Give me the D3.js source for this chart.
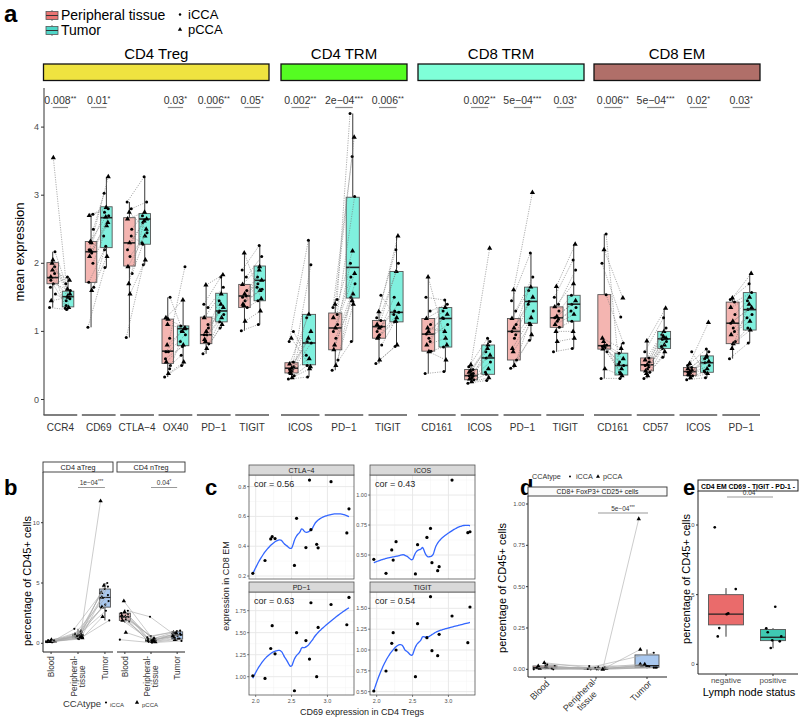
<!DOCTYPE html>
<html><head><meta charset="utf-8">
<script src="https://cdn.jsdelivr.net/npm/d3@7"></script>
<style>body{margin:0;background:#fff} svg{font-family:"Liberation Sans",Arial,sans-serif}</style>
</head><body><svg id="fig" width="800" height="718"></svg>
<script>
// ---------------- DATA ----------------
// panel a
const A_FACETS = ['CD4 Treg','CD4 TRM','CD8 TRM','CD8 EM'];
const A_MARKERS = [['CCR4','CD69','CTLA−4','OX40','PD−1','TIGIT'],['ICOS','PD−1','TIGIT'],['CD161','ICOS','PD−1','TIGIT'],['CD161','CD57','ICOS','PD−1']];
const A_PVALS = [['0.008**','0.01*','','0.03*','0.006**','0.05*'],['0.002**','2e−04***','0.006**'],['','0.002**','5e−04***','0.03*'],['0.006**','5e−04***','0.02*','0.03*']];
const A_TICKS = [0,1,2,3,4];
const PATIENT_TYPE = ['i','p','i','p','i','i','p','i','p','i','i','p','i','p'];
// box stats [lower whisker, q1, median, q3, upper whisker] – Peripheral tissue / Tumor
const A_BOX_P = [[1.35,1.70,1.79,2.01,2.17],[1.06,1.72,2.17,2.32,2.73],[0.91,1.96,2.30,2.67,2.90],[0.33,0.53,0.71,1.18,1.50],[0.67,0.82,0.95,1.21,1.68],[1.01,1.35,1.52,1.69,2.15],
 [0.30,0.39,0.46,0.54,0.56],[0.43,0.73,1.05,1.27,1.47],[0.53,0.90,1.07,1.16,1.29],
 [0.38,0.71,0.96,1.19,1.80],[0.24,0.29,0.35,0.44,0.51],[0.46,0.58,1.00,1.19,1.61],[0.70,1.06,1.20,1.36,1.66],
 [0.31,0.74,0.79,1.54,2.43],[0.31,0.42,0.51,0.61,0.86],[0.29,0.35,0.41,0.47,0.53],[0.60,0.82,1.12,1.43,1.49]];
const A_BOX_T = [[1.31,1.36,1.51,1.59,1.80],[1.94,2.23,2.67,2.83,3.27],[1.98,2.28,2.65,2.73,3.27],[0.50,0.79,1.04,1.08,1.46],[1.05,1.14,1.30,1.56,1.83],[1.10,1.45,1.75,1.96,2.26],
 [0.33,0.51,0.83,1.25,2.34],[0.85,1.49,1.94,2.97,4.20],[0.80,1.14,1.28,1.88,2.40],
 [0.41,0.77,1.19,1.35,1.46],[0.28,0.37,0.61,0.80,0.90],[0.87,1.12,1.44,1.65,2.15],[0.75,1.15,1.40,1.53,2.28],
 [0.31,0.36,0.50,0.68,0.83],[0.62,0.75,0.89,1.00,1.34],[0.32,0.40,0.54,0.64,0.74],[0.83,1.02,1.32,1.57,1.85]];
// per-patient values (paired)
const A_PTS_P = [
 [1.35,3.55,1.55,1.45,1.70,1.75,2.05,2.17,1.80,1.95,1.65,1.90,1.85,2.00],
 [1.06,1.60,1.65,2.10,2.15,2.20,2.30,2.50,2.70,2.72,1.72,2.18,2.00,2.32],
 [0.91,1.55,1.85,1.95,2.10,2.20,2.30,2.50,2.65,2.80,2.90,2.75,2.40,1.70],
 [0.33,0.38,0.50,0.55,0.70,0.70,1.18,1.50,1.20,0.90,0.60,1.10,0.45,0.80],
 [0.67,0.75,0.82,0.88,0.95,0.95,1.00,1.05,1.20,1.35,1.40,1.68,1.10,0.85],
 [1.01,1.15,1.35,1.40,1.45,1.50,1.55,1.60,1.69,1.80,1.90,2.15,1.52,1.38],
 [0.30,0.32,0.35,0.40,0.42,0.44,0.46,0.48,0.52,0.55,0.85,0.90,1.00,0.38],
 [0.43,0.50,0.58,0.73,0.90,1.00,1.05,1.10,1.20,1.25,1.35,1.40,1.47,0.80],
 [0.53,0.58,0.80,0.90,0.95,1.00,1.05,1.07,1.10,1.16,1.20,1.29,1.53,0.92],
 [0.38,0.70,0.71,0.80,0.90,0.96,1.00,1.10,1.19,1.30,1.50,1.80,0.85,1.05],
 [0.24,0.26,0.29,0.30,0.32,0.35,0.36,0.38,0.40,0.44,0.48,0.51,0.34,0.42],
 [0.46,0.50,0.58,0.75,0.90,1.00,1.05,1.10,1.19,1.30,1.45,1.61,0.95,0.70],
 [0.70,0.85,1.06,1.10,1.15,1.20,1.22,1.30,1.36,1.40,1.50,1.66,1.18,1.00],
 [0.31,0.45,0.70,0.74,0.76,0.78,0.79,0.80,0.90,1.54,2.00,2.20,2.43,0.85],
 [0.31,0.35,0.40,0.42,0.45,0.50,0.51,0.55,0.58,0.61,0.70,0.86,0.48,0.38],
 [0.29,0.32,0.35,0.37,0.39,0.40,0.41,0.43,0.45,0.47,0.50,0.53,0.70,0.36],
 [0.60,0.82,0.85,0.95,1.05,1.12,1.15,1.25,1.35,1.43,1.47,1.49,1.00,0.75]];
const A_PTS_T = [
 [1.32,1.35,1.45,1.50,1.60,1.38,1.55,1.70,1.52,1.48,1.80,1.75,1.34,1.62],
 [1.94,2.10,2.20,2.55,2.70,2.75,3.27,3.03,2.82,2.80,2.25,2.60,2.40,2.68],
 [1.98,2.05,2.28,2.40,2.45,2.60,2.65,2.70,2.75,2.90,3.27,2.50,2.30,2.62],
 [0.50,0.55,0.65,0.80,0.95,1.00,1.05,1.08,1.46,1.95,0.78,1.04,0.85,1.00],
 [1.05,1.10,1.14,1.20,1.25,1.30,1.35,1.45,1.55,1.65,1.80,1.83,1.28,1.40],
 [1.10,1.30,1.45,1.60,1.62,1.70,1.75,1.80,1.95,2.10,2.26,1.48,1.65,1.90],
 [0.33,0.45,0.50,0.60,0.83,0.85,1.00,1.20,1.25,1.98,2.34,0.48,0.65,0.90],
 [0.85,1.40,1.50,1.55,1.70,1.80,1.85,2.00,2.18,2.98,3.57,3.85,4.20,1.45],
 [0.78,0.80,1.14,1.20,1.28,1.30,1.40,1.50,1.88,2.00,2.20,2.40,1.25,1.15],
 [0.41,0.58,0.77,0.90,1.10,1.19,1.25,1.30,1.35,1.40,1.46,0.80,1.20,1.00],
 [0.28,0.32,0.37,0.45,0.55,0.61,0.65,0.70,0.80,0.85,0.90,2.22,0.40,0.75],
 [0.87,0.95,1.12,1.20,1.30,1.44,1.50,1.60,1.65,1.80,2.15,3.04,1.40,1.10],
 [0.75,0.90,1.15,1.25,1.35,1.40,1.45,1.53,1.70,1.90,2.05,2.28,1.30,1.00],
 [0.31,0.35,0.40,0.45,0.50,0.55,0.60,0.68,0.75,0.83,1.21,1.49,0.52,0.38],
 [0.62,0.70,0.75,0.80,0.85,0.88,0.90,0.95,1.00,1.05,1.20,1.34,0.78,0.92],
 [0.32,0.38,0.40,0.45,0.50,0.54,0.56,0.60,0.64,0.70,0.74,1.13,0.42,0.62],
 [0.83,1.02,1.05,1.15,1.25,1.32,1.35,1.45,1.50,1.57,1.70,1.85,1.20,1.40]];

// panel b
const B_FACETS = ['CD4 aTreg','CD4 nTreg'];
const B_CATS = ['Blood','Peripheral-\ntissue','Tumor'];
const B_TICKS = [0,5,10];
const B_PVALS = ['1e−04***','0.04*'];
const B_BOX = [
 [[0.05,0.10,0.15,0.22,0.30],[0.30,0.45,0.60,0.75,1.20],[1.90,3.00,3.80,4.50,5.00]],
 [[1.70,1.90,2.20,2.50,2.80],[0.05,0.15,0.25,0.38,0.60],[0.20,0.35,0.70,0.95,1.10]]];
const B_PTS = [
 [[0.10,0.15,0.20,0.12,0.08,0.25,0.30,0.18,0.14,0.22,0.10,0.16,0.20,0.12],
  [0.35,0.45,0.50,0.60,0.65,0.70,0.55,0.80,1.00,1.20,0.40,0.75,0.60,0.50],
  [1.90,2.20,2.70,3.00,3.20,3.50,3.80,4.00,4.20,4.50,4.70,4.80,5.00,11.8]],
 [[0.30,0.90,1.80,1.90,2.00,2.10,2.20,2.20,2.30,2.40,2.50,2.60,2.70,3.50],
  [0.05,0.10,0.12,0.15,0.20,0.25,0.30,0.35,0.40,0.50,0.60,0.20,2.20,0.30],
  [0.20,0.30,0.40,0.50,0.60,0.70,0.75,0.80,0.90,1.00,1.05,0.85,0.40,0.60]]];

// panel c
const C_FACETS = ['CTLA−4','ICOS','PD−1','TIGIT'];
const C_COR = ['cor = 0.56','cor = 0.43','cor = 0.63','cor = 0.54'];
const C_X = [1.96,2.13,2.21,2.23,2.27,2.54,2.57,2.70,2.75,2.77,2.85,2.87,3.05,3.27,3.30];
const C_Y = [
 [0.218,0.304,0.449,0.464,0.451,0.271,0.587,0.391,0.844,0.511,0.413,0.389,0.833,0.489,0.651],
 [0.464,0.347,0.542,0.458,0.611,0.342,0.586,0.647,0.722,0.436,0.369,0.403,1.125,0.686,0.694],
 [1.01,0.98,1.32,1.58,1.26,0.84,1.50,1.41,1.20,1.84,1.00,1.56,1.82,1.59,1.90],
 [0.508,0.748,1.08,1.208,1.00,0.68,1.316,1.148,1.64,0.992,0.932,1.188,1.408,1.088,1.516]];
const C_XTICKS = [2.0,2.5,3.0];
const C_YTICKS = [[0.2,0.4,0.6,0.8],[0.5,0.75,1.0],[1.0,1.25,1.5,1.75],[0.5,0.75,1.0,1.25,1.5]];
const C_YDOM = [[0.18,0.878],[0.30,1.167],[0.792,1.962],[0.46,1.696]];

// panel d
const D_CATS = ['Blood','Peripheral-\ntissue','Tumor'];
const D_TICKS = [0,0.25,0.5,0.75,1.0];
const D_BOX = [[0,0.005,0.01,0.02,0.035],[0,0.0,0.003,0.008,0.015],[0.005,0.012,0.022,0.087,0.12]];
const D_PTS = [
 [0.0,0.01,0.02,0.005,0.03,0.01,0.015,0.0,0.02,0.005,0.01,0.04],
 [0.0,0.005,0.0,0.01,0.02,0.0,0.005,0.01,0.0,0.002,0.008,0.0],
 [0.01,0.02,0.015,0.03,0.02,0.01,0.12,0.10,0.91,0.02,0.01,0.03]];
const D_TYPE = ['i','p','i','p','i','i','p','i','p','i','i','p'];

// panel e
const E_CATS = ['negative','positive'];
const E_TICKS = [0,5,10];
const E_BOX = [[1.98,2.83,3.6,5.0,5.47],[1.15,1.70,1.94,2.50,2.60]];
const E_PTS = [[9.83,5.4,3.65,3.6,2.6,2.0],[4.13,2.3,2.58,2.0,1.65,1.72,1.17]];

// ---------------- HELPERS ----------------
const svg = d3.select('#fig');
function txt(g,x,y,s,o={}){const t=g.append('text').attr('x',x).attr('y',y).text(s).attr('font-size',o.size||10).attr('fill',o.fill||'#000').attr('text-anchor',o.anchor||'start');if(o.weight)t.attr('font-weight',o.weight);if(o.rot!=null)t.attr('transform',`rotate(${o.rot},${x},${y})`);return t;}
function boxplot(g,cx,w,s,y,fill,stroke,medW){
 g.append('line').attr('x1',cx).attr('x2',cx).attr('y1',y(s[0])).attr('y2',y(s[1])).attr('stroke','#222').attr('stroke-width',0.9);
 g.append('line').attr('x1',cx).attr('x2',cx).attr('y1',y(s[3])).attr('y2',y(s[4])).attr('stroke','#222').attr('stroke-width',0.9);
 g.append('rect').attr('x',cx-w/2).attr('width',w).attr('y',y(s[3])).attr('height',Math.max(0.5,y(s[1])-y(s[3]))).attr('fill',fill).attr('stroke',stroke).attr('stroke-width',0.9);
 g.append('line').attr('x1',cx-w/2).attr('x2',cx+w/2).attr('y1',y(s[2])).attr('y2',y(s[2])).attr('stroke','#222').attr('stroke-width',medW||1.5);
}
function pt(g,x,y,type,sz){
 if(type==='p') g.append('path').attr('d',d3.symbol(d3.symbolTriangle,sz*3.2)()).attr('transform',`translate(${x},${y})`).attr('fill','#000');
 else g.append('circle').attr('cx',x).attr('cy',y).attr('r',sz/2.4).attr('fill','#000');
}
const jit = (i,a)=>(((i*7)%5)-2)/2*a + (((i*3)%4)-1.5)/6*a;
function pval(g,x,y,s,size){
 const m=s.match(/^([^*]*)(\**)$/);
 const t=g.append('text').attr('x',x).attr('y',y).attr('text-anchor','middle').attr('font-size',size).attr('fill','#333');
 t.append('tspan').text(m[1]);
 if(m[2]) t.append('tspan').text(m[2]).attr('font-size',size*0.7).attr('dy',-size*0.3);
}
function multiLabel(g,x,y,label,rot,size){
 const lines=label.split('\n');
 const gg=g.append('g').attr('transform',`translate(${x},${y}) rotate(${rot})`);
 const ts=lines.map((l,i)=>gg.append('text').text(l).attr('font-size',size).attr('fill','#333').attr('text-anchor','middle').attr('y',(i-(lines.length-1)/2)*size*1.05+size*0.35));
 const W=d3.max(ts,t=>t.node().getComputedTextLength());
 ts.forEach(t=>t.attr('x',-W/2));
}
function loess(xs,ys,grid,span){
 const n=xs.length,q=Math.floor(n*span);
 return grid.map(x0=>{
  const d=xs.map(x=>Math.abs(x-x0));const h=[...d].sort((a,b)=>a-b)[q-1]*1.0001;
  const S=[[0,0,0],[0,0,0],[0,0,0]],b=[0,0,0];
  for(let i=0;i<n;i++){const u=d[i]/h;if(u>=1)continue;const w=Math.pow(1-u*u*u,3);const t=xs[i]-x0;const v=[1,t,t*t];
   for(let j=0;j<3;j++){b[j]+=w*v[j]*ys[i];for(let k=0;k<3;k++)S[j][k]+=w*v[j]*v[k];}}
  const M=S.map((r,i)=>[...r,b[i]]);
  for(let c=0;c<3;c++){let p=c;for(let r=c+1;r<3;r++)if(Math.abs(M[r][c])>Math.abs(M[p][c]))p=r;[M[c],M[p]]=[M[p],M[c]];
   for(let r=0;r<3;r++){if(r===c)continue;const f=M[r][c]/M[c][c];for(let k=c;k<4;k++)M[r][k]-=f*M[c][k];}}
  return [x0,M[0][3]/M[0][0]];
 });
}

// ---------------- PANEL A ----------------
(function(){
 const g=svg.append('g');
 txt(g,4,22,'a',{size:24,weight:'bold'});
 [['Peripheral tissue','#ea7472',20],['Tumor','#4fd6c8',35]].forEach(([l,c,yy])=>{
  g.append('line').attr('x1',52).attr('x2',52).attr('y1',yy-10).attr('y2',yy+1).attr('stroke','#555').attr('stroke-width',0.8);
  g.append('rect').attr('x',46).attr('y',yy-8.5).attr('width',12).attr('height',8).attr('fill',c).attr('stroke','#555').attr('stroke-width',0.8);
  g.append('line').attr('x1',46).attr('x2',58).attr('y1',yy-4.5).attr('y2',yy-4.5).attr('stroke','#333').attr('stroke-width',1);
  txt(g,61,yy,l,{size:14});
 });
 pt(g,180,14.5,'i',3);txt(g,188,19,'iCCA',{size:13});
 pt(g,180,29.5,'p',2.6);txt(g,188,34,'pCCA',{size:13});
 const y=d3.scaleLinear().domain([0,4]).range([399.5,127.1]);
 g.append('line').attr('x1',44).attr('x2',44).attr('y1',88).attr('y2',415).attr('stroke','#333').attr('stroke-width',1);
 A_TICKS.forEach(t=>{g.append('line').attr('x1',41).attr('x2',44).attr('y1',y(t)).attr('y2',y(t)).attr('stroke','#333');
  txt(g,39,y(t)+3,String(t),{size:9,fill:'#4d4d4d',anchor:'end'});});
 txt(g,24,252,'mean expression',{size:13,anchor:'middle',rot:-90});
 const ranges=[[43.5,269],[281,407],[418,584],[594,760]];
 const stripCol=['#efe340','#55fc22','#7fffd8','#b06f69'];
 let k=0;
 A_FACETS.forEach((f,fi)=>{
  const r=ranges[fi];
  g.append('rect').attr('x',r[0]).attr('y',64).attr('width',r[1]-r[0]).attr('height',16.5).attr('fill',stripCol[fi]).attr('stroke','#111').attr('stroke-width',1.3);
  txt(g,(r[0]+r[1])/2,59,f,{size:15,anchor:'middle'});
  const x=d3.scaleBand().domain(A_MARKERS[fi]).range(r).paddingInner(0.12).paddingOuter(0);
  A_MARKERS[fi].forEach((m,mi)=>{
   const cx=x(m)+x.bandwidth()/2,bw=x.step(),off=bw*0.2,w=bw*0.3;
   g.append('line').attr('x1',x(m)).attr('x2',x(m)+x.bandwidth()).attr('y1',415).attr('y2',415).attr('stroke','#555').attr('stroke-width',1.3);
   txt(g,cx,431,m,{size:10,fill:'#333',anchor:'middle'});
   if(A_PVALS[fi][mi]){pval(g,cx,104,A_PVALS[fi][mi],10.5);
    g.append('line').attr('x1',cx-off).attr('x2',cx+off).attr('y1',107.5).attr('y2',107.5).attr('stroke','#888').attr('stroke-width',1.2);}
   boxplot(g,cx-off,w,A_BOX_P[k],y,'#f4b5b1','#555',1.6);
   boxplot(g,cx+off,w,A_BOX_T[k],y,'#80f0de','#555',1.6);
   const P=A_PTS_P[k],T=A_PTS_T[k];
   P.forEach((v,i)=>{const x1=cx-off+jit(i,2.5),x2=cx+off+jit(i+3,2.5);
    g.append('line').attr('x1',x1).attr('x2',x2).attr('y1',y(v)).attr('y2',y(T[i])).attr('stroke','#777').attr('stroke-width',0.6).attr('stroke-dasharray','1.2,1.2');
    pt(g,x1,y(v),PATIENT_TYPE[i],3.6);pt(g,x2,y(T[i]),PATIENT_TYPE[i],3.6);});
   k++;
  });
 });
})();

// ---------------- PANEL B ----------------
(function(){
 const g=svg.append('g');
 txt(g,4,495,'b',{size:22,weight:'bold'});
 const y=d3.scaleLinear().domain([0,10]).range([643.3,522.7]);
 const facets=[[43,113],[117,185]];
 const fills=['#f2bcbc','#9ed69e','#a9c8ef'];
 g.append('line').attr('x1',43).attr('x2',43).attr('y1',472).attr('y2',652).attr('stroke','#222');
 B_TICKS.forEach(t=>{g.append('line').attr('x1',41).attr('x2',43).attr('y1',y(t)).attr('y2',y(t)).attr('stroke','#333');
  txt(g,39.5,y(t)+2,String(t),{size:6,fill:'#4d4d4d',anchor:'end'});});
 txt(g,31,581,'percentage of  CD45+ cells',{size:11,anchor:'middle',rot:-90});
 B_FACETS.forEach((f,fi)=>{
  const r=facets[fi];
  g.append('rect').attr('x',r[0]).attr('y',462).attr('width',r[1]-r[0]).attr('height',10).attr('fill','#fff').attr('stroke','#333').attr('stroke-width',0.9);
  txt(g,(r[0]+r[1])/2,469.8,f,{size:7.2,anchor:'middle',fill:'#1a1a1a'});
  g.append('line').attr('x1',r[0]).attr('x2',r[1]).attr('y1',652).attr('y2',652).attr('stroke','#222');
  const x=d3.scalePoint().domain(B_CATS).range(r).padding(0.3);
  B_CATS.forEach((c,ci)=>{g.append('line').attr('x1',x(c)).attr('x2',x(c)).attr('y1',652).attr('y2',654).attr('stroke','#333');
   multiLabel(g,x(c),656,c,-90,8.3);
   boxplot(g,x(c),11,B_BOX[fi][ci],y,fills[ci],'#555',1.2);});
  const pts=B_PTS[fi];
  pts[0].forEach((_,i)=>{
   const xs=B_CATS.map((c,ci)=>x(c)+jit(i+ci,4));
   g.append('path').attr('d',d3.line()(xs.map((xx,ci)=>[xx,y(pts[ci][i])]))).attr('fill','none').attr('stroke','#aaa').attr('stroke-width',0.6);
   xs.forEach((xx,ci)=>pt(g,xx,y(pts[ci][i]),PATIENT_TYPE[i],2.6));
  });
  pval(g,(x(B_CATS[1])+x(B_CATS[2]))/2,485,B_PVALS[fi],6.5);
  g.append('line').attr('x1',x(B_CATS[1])).attr('x2',x(B_CATS[2])).attr('y1',487.5).attr('y2',487.5).attr('stroke','#999').attr('stroke-width',1);
 });
 txt(g,63,707,'CCAtype',{size:9.5,fill:'#333'});
 pt(g,106,702.5,'i',2.6);txt(g,110,707,'iCCA',{size:6,fill:'#333'});
 pt(g,137,702.5,'p',2.4);txt(g,142,707,'pCCA',{size:6,fill:'#333'});
})();

// ---------------- PANEL C ----------------
(function(){
 const g=svg.append('g');
 txt(g,205,495,'c',{size:22,weight:'bold'});
 const px=[[249,354],[370,475],[249,354],[370,475]];
 const py=[[475,579],[475,579],[592,695],[592,695]];
 C_FACETS.forEach((f,fi)=>{
  const x=d3.scaleLinear().domain([1.907,3.37]).range(px[fi]);
  const y=d3.scaleLinear().domain(C_YDOM[fi]).range([py[fi][1],py[fi][0]]);
  const pg=g.append('g');
  pg.append('rect').attr('x',px[fi][0]).attr('y',py[fi][0]).attr('width',px[fi][1]-px[fi][0]).attr('height',py[fi][1]-py[fi][0]).attr('fill','#fff');
  const xm=[2.25,2.75,3.25];
  const yt=C_YTICKS[fi],st=yt[1]-yt[0];
  const ym=[yt[0]-st/2,...yt.map(t=>t+st/2)].filter(v=>v>C_YDOM[fi][0]&&v<C_YDOM[fi][1]);
  xm.forEach(v=>pg.append('line').attr('x1',x(v)).attr('x2',x(v)).attr('y1',py[fi][0]).attr('y2',py[fi][1]).attr('stroke','#f2f2f2').attr('stroke-width',0.5));
  ym.forEach(v=>pg.append('line').attr('y1',y(v)).attr('y2',y(v)).attr('x1',px[fi][0]).attr('x2',px[fi][1]).attr('stroke','#f2f2f2').attr('stroke-width',0.5));
  C_XTICKS.forEach(v=>pg.append('line').attr('x1',x(v)).attr('x2',x(v)).attr('y1',py[fi][0]).attr('y2',py[fi][1]).attr('stroke','#e6e6e6').attr('stroke-width',0.9));
  yt.forEach(v=>pg.append('line').attr('y1',y(v)).attr('y2',y(v)).attr('x1',px[fi][0]).attr('x2',px[fi][1]).attr('stroke','#e6e6e6').attr('stroke-width',0.9));
  const grid=d3.range(80).map(i=>d3.min(C_X)+i*(d3.max(C_X)-d3.min(C_X))/79);
  const fit=loess(C_X,C_Y[fi],grid,0.75);
  pg.append('path').attr('d',d3.line().x(d=>x(d[0])).y(d=>y(d[1])).curve(d3.curveMonotoneX)(fit)).attr('fill','none').attr('stroke','#3366ff').attr('stroke-width',1.3);
  C_X.forEach((v,i)=>pg.append('circle').attr('cx',x(v)).attr('cy',y(C_Y[fi][i])).attr('r',1.6).attr('fill','#000'));
  pg.append('rect').attr('x',px[fi][0]).attr('y',py[fi][0]).attr('width',px[fi][1]-px[fi][0]).attr('height',py[fi][1]-py[fi][0]).attr('fill','none').attr('stroke','#555').attr('stroke-width',0.8);
  pg.append('rect').attr('x',px[fi][0]).attr('y',py[fi][0]-10).attr('width',px[fi][1]-px[fi][0]).attr('height',10).attr('fill','#d9d9d9').attr('stroke','#555').attr('stroke-width',0.8);
  txt(pg,(px[fi][0]+px[fi][1])/2,py[fi][0]-2.5,f,{size:7,anchor:'middle',fill:'#1a1a1a'});
  txt(pg,px[fi][0]+5,py[fi][0]+12,C_COR[fi],{size:9,fill:'#222'});
  const fmt=fi===0?d3.format('.1f'):d3.format('.2f');
  yt.forEach(v=>{pg.append('line').attr('x1',px[fi][0]-2).attr('x2',px[fi][0]).attr('y1',y(v)).attr('y2',y(v)).attr('stroke','#333').attr('stroke-width',0.6);
   txt(pg,px[fi][0]-3,y(v)+2,fmt(v),{size:5.5,fill:'#4d4d4d',anchor:'end'});});
  if(fi>=2) C_XTICKS.forEach(v=>{pg.append('line').attr('x1',x(v)).attr('x2',x(v)).attr('y1',py[fi][1]).attr('y2',py[fi][1]+2).attr('stroke','#333').attr('stroke-width',0.6);
   txt(pg,x(v),py[fi][1]+8,d3.format('.1f')(v),{size:5.5,fill:'#4d4d4d',anchor:'middle'});});
 });
 txt(g,362,715,'CD69 expression in CD4 Tregs',{size:9,anchor:'middle',fill:'#222'});
 txt(g,229,586,'expression in CD8 EM',{size:9,anchor:'middle',fill:'#222',rot:-90});
})();

// ---------------- PANEL D ----------------
(function(){
 const g=svg.append('g');
 txt(g,520,495,'d',{size:22,weight:'bold'});
 txt(g,532,479,'CCAtype',{size:7.2,fill:'#333'});
 pt(g,570,476.5,'i',2.4);txt(g,576,479,'iCCA',{size:7.2,fill:'#333'});
 pt(g,598,476.5,'p',2.2);txt(g,603,479,'pCCA',{size:7.2,fill:'#333'});
 const y=d3.scaleLinear().domain([0,1]).range([669.3,504]);
 const x=d3.scalePoint().domain(D_CATS).range([545,647]);
 const fills=['#f2bcbc','#9ed69e','#a9c8ef'];
 g.append('rect').attr('x',528).attr('y',487).attr('width',139).attr('height',9).attr('fill','#fafafa').attr('stroke','#333').attr('stroke-width',0.9);
 txt(g,597.5,494.3,'CD8+ FoxP3+ CD25+ cells',{size:6.8,anchor:'middle',fill:'#1a1a1a'});
 g.append('line').attr('x1',528).attr('x2',528).attr('y1',496).attr('y2',677).attr('stroke','#222');
 g.append('line').attr('x1',528).attr('x2',667).attr('y1',677).attr('y2',677).attr('stroke','#222');
 D_TICKS.forEach(t=>{g.append('line').attr('x1',526).attr('x2',528).attr('y1',y(t)).attr('y2',y(t)).attr('stroke','#333');
  txt(g,525,y(t)+2,d3.format('.2f')(t),{size:6,fill:'#4d4d4d',anchor:'end'});});
 txt(g,506,588,'percentage of  CD45+ cells',{size:11,anchor:'middle',rot:-90});
 D_CATS.forEach((c,ci)=>{g.append('line').attr('x1',x(c)).attr('x2',x(c)).attr('y1',677).attr('y2',679).attr('stroke','#333');
  const lines=c.split('\n');
  const gg=g.append('g').attr('transform',`translate(${x(c)+3},${682}) rotate(-45)`);
  const ts=lines.map((l,i)=>gg.append('text').text(l).attr('font-size',9).attr('fill','#333').attr('text-anchor','middle').attr('y',(i-(lines.length-1)/2)*9.5+3));
  const W=d3.max(ts,t=>t.node().getComputedTextLength());ts.forEach(t=>t.attr('x',-W/2));
  boxplot(g,x(c),24,D_BOX[ci],y,fills[ci],'#555',1.3);});
 D_PTS[0].forEach((_,i)=>{
  const xs=D_CATS.map((c,ci)=>x(c)+jit(i+ci,9));
  g.append('path').attr('d',d3.line()(xs.map((xx,ci)=>[xx,y(D_PTS[ci][i])]))).attr('fill','none').attr('stroke','#aaa').attr('stroke-width',0.6);
  xs.forEach((xx,ci)=>pt(g,xx,y(D_PTS[ci][i]),D_TYPE[i],2.6));
 });
 pval(g,623,510.5,'5e−04***',6.5);
 g.append('line').attr('x1',598).attr('x2',648).attr('y1',513).attr('y2',513).attr('stroke','#999').attr('stroke-width',1.2);
})();

// ---------------- PANEL E ----------------
(function(){
 const g=svg.append('g');
 txt(g,683,495,'e',{size:22,weight:'bold'});
 const y=d3.scaleLinear().domain([0,10]).range([664.3,525]);
 const cxs=[726,773],ws=[35,25],fills=['#ea6b6b','#3fc9b2'];
 g.append('rect').attr('x',698).attr('y',480).attr('width',100).attr('height',11).attr('fill','#fff').attr('stroke','#222').attr('stroke-width',1);
 txt(g,748,488.5,'CD4 EM CD69 - TIGIT - PD-1 -',{size:6.8,anchor:'middle',weight:'bold'});
 g.append('line').attr('x1',698).attr('x2',698).attr('y1',491).attr('y2',674).attr('stroke','#222');
 g.append('line').attr('x1',698).attr('x2',798).attr('y1',674).attr('y2',674).attr('stroke','#222');
 E_TICKS.forEach(t=>{g.append('line').attr('x1',696).attr('x2',698).attr('y1',y(t)).attr('y2',y(t)).attr('stroke','#333');
  txt(g,694.5,y(t)+2,String(t),{size:6,fill:'#4d4d4d',anchor:'end'});});
 txt(g,690,579,'percentage of  CD45+ cells',{size:11,anchor:'middle',rot:-90});
 E_CATS.forEach((c,ci)=>{
  g.append('line').attr('x1',cxs[ci]).attr('x2',cxs[ci]).attr('y1',674).attr('y2',676).attr('stroke','#333');
  txt(g,cxs[ci],683,c,{size:8,fill:'#4d4d4d',anchor:'middle'});
  boxplot(g,cxs[ci],ws[ci],E_BOX[ci],y,fills[ci],'#555',1.3);
  E_PTS[ci].forEach((v,i)=>pt(g,cxs[ci]+jit(i*2+ci,9),y(v),'i',3.2));
 });
 txt(g,749,696,'Lymph node status',{size:11,anchor:'middle'});
 pval(g,750,494.5,'0.04*',6.5);
 g.append('line').attr('x1',727).attr('x2',773).attr('y1',497).attr('y2',497).attr('stroke','#999').attr('stroke-width',1);
})();
</script></body></html>
